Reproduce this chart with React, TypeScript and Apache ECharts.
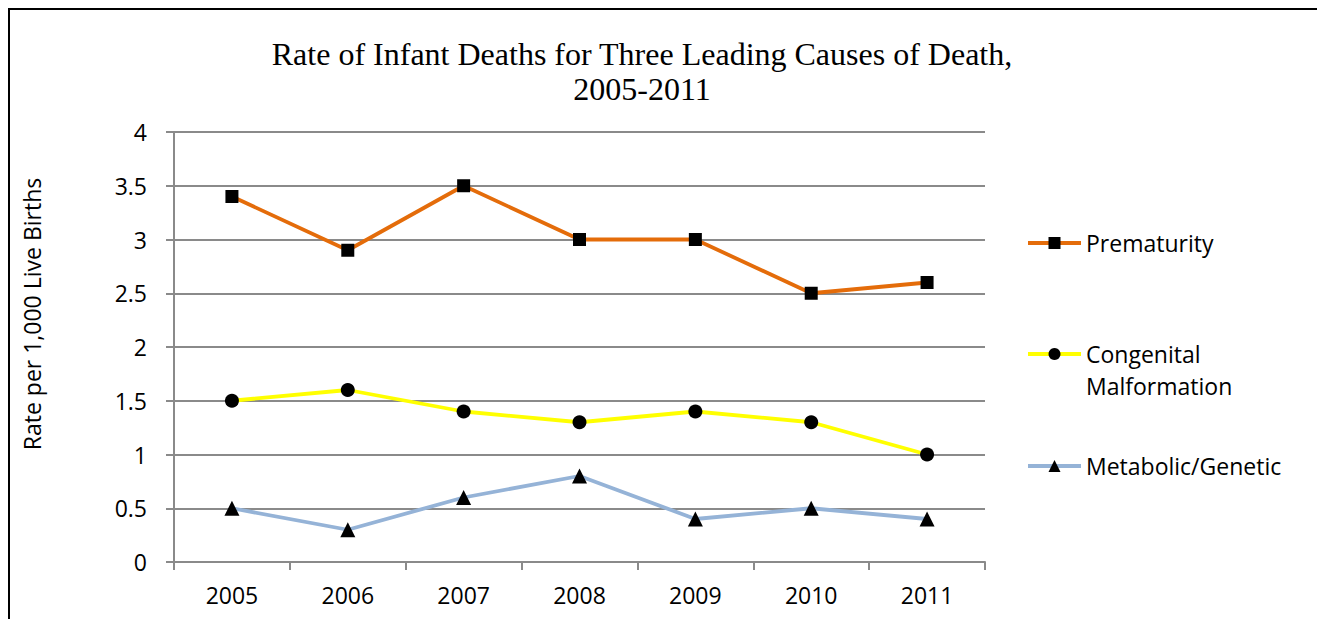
import React, { useEffect, useRef } from "react";
import * as echarts from "echarts";

const years = ["2005", "2006", "2007", "2008", "2009", "2010", "2011"];
const prematurity = [3.4, 2.9, 3.5, 3.0, 3.0, 2.5, 2.6];
const congenital = [1.5, 1.6, 1.4, 1.3, 1.4, 1.3, 1.0];
const metabolic = [0.5, 0.3, 0.6, 0.8, 0.4, 0.5, 0.4];

const titleLine1 = "Rate of Infant Deaths for Three Leading Causes of Death,";
const titleLine2 = "2005-2011";
const yAxisName = "Rate per 1,000 Live Births";

const FONT = "'Open Sans', sans-serif";

export default function App() {
  const ref = useRef<HTMLDivElement>(null);
  useEffect(() => {
    if (!ref.current) return;
    const chart = echarts.init(ref.current, undefined, { renderer: "svg" });
    const legendText = { fontFamily: FONT, fontSize: 23, color: "#000", lineHeight: 32 };
    const legendCommon = {
      orient: "vertical",
      left: 1026,
      padding: 0,
      itemWidth: 53,
      itemHeight: 15,
      lineStyle: { width: 4 },
      textStyle: legendText,
    };
    chart.setOption({
      animation: false,
      backgroundColor: "#fff",
      title: {
        text: titleLine1 + "\n" + titleLine2,
        left: 642,
        top: 36,
        padding: 0,
        textAlign: "center",
        textStyle: {
          fontFamily: "'Liberation Serif', 'Times New Roman', serif",
          fontSize: 32,
          fontWeight: "normal",
          color: "#000",
          lineHeight: 35,
        },
      },
      graphic: [
        { type: "line", shape: { x1: 9, y1: 8, x2: 9, y2: 619 }, style: { stroke: "#000", lineWidth: 2 } },
        { type: "line", shape: { x1: 8, y1: 9, x2: 1317, y2: 9 }, style: { stroke: "#000", lineWidth: 2 } },
      ],
      grid: { left: 174, right: 332, top: 132, bottom: 57, containLabel: false },
      legend: [
        { ...legendCommon, data: ["Prematurity"], top: 227 },
        {
          ...legendCommon,
          data: ["Congenital Malformation"],
          top: 306,
          formatter: () => "\nCongenital\nMalformation",
        },
        { ...legendCommon, data: ["Metabolic/Genetic"], top: 450 },
      ],
      xAxis: {
        type: "category",
        data: years,
        boundaryGap: true,
        axisLine: { lineStyle: { color: "#8a8a8a", width: 2 } },
        axisTick: { show: true, length: 8, lineStyle: { color: "#8a8a8a", width: 2 } },
        axisLabel: { color: "#000", fontFamily: FONT, fontSize: 23, margin: 21 },
        splitLine: { show: false },
      },
      yAxis: {
        type: "value",
        min: 0,
        max: 4,
        interval: 0.5,
        name: yAxisName,
        nameLocation: "middle",
        nameGap: 131,
        nameTextStyle: { color: "#000", fontFamily: FONT, fontSize: 23, padding: [0, 0, 0, 66] },
        axisLine: { show: true, lineStyle: { color: "#8a8a8a", width: 2 } },
        axisTick: { show: true, length: 8, lineStyle: { color: "#8a8a8a", width: 2 } },
        axisLabel: { color: "#000", fontFamily: FONT, fontSize: 23, margin: 27 },
        splitLine: { show: true, lineStyle: { color: "#8a8a8a", width: 2 } },
      },
      series: [
        {
          name: "Prematurity",
          type: "line",
          data: prematurity,
          symbol: "rect",
          symbolSize: 13,
          lineStyle: { color: "#E46C0A", width: 3.8 },
          itemStyle: { color: "#000" },
        },
        {
          name: "Congenital Malformation",
          type: "line",
          data: congenital,
          symbol: "circle",
          symbolSize: 14,
          lineStyle: { color: "#FFFF00", width: 3.8 },
          itemStyle: { color: "#000" },
        },
        {
          name: "Metabolic/Genetic",
          type: "line",
          data: metabolic,
          symbol: "triangle",
          symbolSize: 15,
          lineStyle: { color: "#95B3D7", width: 3.8 },
          itemStyle: { color: "#000" },
        },
      ],
    });
    return () => chart.dispose();
  }, []);
  return (
    <div
      ref={ref}
      style={{ position: "absolute", left: 0, top: 0, width: 1317, height: 619 }}
    />
  );
}
